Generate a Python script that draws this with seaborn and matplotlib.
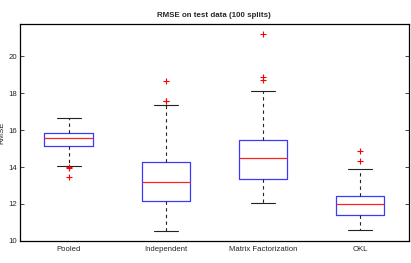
import pandas as pd
import matplotlib.pyplot as plt
import seaborn as sns

sns.set_style('white')
plt.rcParams['font.family'] = ['Liberation Sans', 'DejaVu Sans']

methods = ['Pooled', 'Independent', 'Matrix Factorization', 'OKL']

# RMSE values (whiskers, quartiles, median, outliers)
pooled = [13.48, 13.95, 14.0, 14.08, 15.13, 15.3, 15.4, 15.5, 15.58,
          15.65, 15.7, 15.75, 15.84, 16.0, 16.2, 16.4, 16.68]
independent = [10.52, 11.0, 11.5, 11.9, 12.18, 12.5, 12.8, 13.0, 13.2,
               13.5, 13.8, 14.0, 14.29, 17.37, 17.55, 17.6, 18.65]
matrix_fact = [12.05, 12.5, 12.8, 13.1, 13.37, 13.6, 13.9, 14.2, 14.47,
               14.8, 15.0, 15.2, 15.46, 18.12, 18.74, 18.85, 21.23]
okl = [10.59, 10.9, 11.2, 11.41, 11.6, 11.8, 12.0, 12.15, 12.3, 12.42,
       13.91, 14.34, 14.85]

df = pd.DataFrame({
    'method': (['Pooled'] * len(pooled) + ['Independent'] * len(independent)
               + ['Matrix Factorization'] * len(matrix_fact) + ['OKL'] * len(okl)),
    'rmse': pooled + independent + matrix_fact + okl,
})

fig = plt.figure(figsize=(4.11, 2.63), dpi=100)
ax = fig.add_axes([0.049, 0.084, 0.945, 0.825])

sns.boxplot(data=df, x='method', y='rmse', order=methods, ax=ax,
            width=0.5, fill=False, whis=1.5,
            boxprops=dict(color='#3a3aff', linewidth=0.9),
            medianprops=dict(color='#ff2222', linewidth=0.9),
            whiskerprops=dict(color='#222222', linewidth=0.8, linestyle=(0, (3, 3))),
            capprops=dict(color='#222222', linewidth=0.8),
            flierprops=dict(marker='+', markersize=4, markeredgewidth=0.8))

# outliers drawn as red plus signs
for line in ax.lines:
    if line.get_marker() == '+':
        line.set_markeredgecolor('red')
        line.set_color('red')

ax.set_xlim(-0.5, 3.5)
ax.set_ylim(10, 21.75)
ax.set_yticks([10, 12, 14, 16, 18, 20])
ax.set_xlabel('')
ax.set_ylabel('RMSE', fontsize=5.6, labelpad=2)
ax.set_title('RMSE on test data (100 splits)', fontsize=5.7, fontweight='bold', pad=5)
ax.tick_params(axis='y', direction='in', right=True, left=True, length=3,
               labelsize=5.6, pad=2, width=0.6)
ax.tick_params(axis='x', length=0, labelsize=5.6, pad=4)
for s in ax.spines.values():
    s.set_color('black')
    s.set_linewidth(0.9)

fig.savefig('out.png', dpi=100)
